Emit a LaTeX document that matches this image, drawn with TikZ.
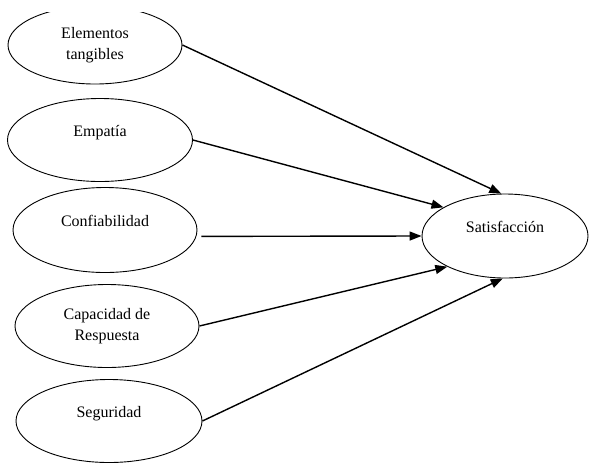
\documentclass[tikz,border=0pt]{standalone}
\usepackage{fontspec}
\setmainfont{Liberation Serif}
\usetikzlibrary{shapes.geometric,arrows.meta}

\begin{document}
\begin{tikzpicture}[x=1pt, y=-1pt,
	factor/.style={draw, ellipse, line width=0.9pt, align=center, inner sep=0pt,
		font=\fontsize{16}{21}\selectfont},
	raised/.style={text depth=18pt},
	link/.style={line width=1.4pt, -{Triangle[length=12pt,width=9pt]}}]
	
	\useasboundingbox (0,0) rectangle (589,464);
	
	\begin{scope}
		\clip (0,12) rectangle (589,464);
		\node [factor, minimum width=174pt, minimum height=78pt] (tangibles) at (95,45) {Elementos\\tangibles};
	\end{scope}
	\node [factor, raised, minimum width=185pt, minimum height=83pt] (empatia) at (100,140) {Empatía};
	\node [factor, raised, minimum width=184pt, minimum height=85pt] (confiabilidad) at (105,230) {Confiabilidad};
	\node [factor, minimum width=184pt, minimum height=83pt] (capacidad) at (107,326) {Capacidad de\\Respuesta};
	\node [factor, raised, minimum width=186pt, minimum height=83pt] (seguridad) at (109,421) {Seguridad};
	\node [factor, raised, minimum width=166pt, minimum height=84pt] (satisfaccion) at (505,236) {Satisfacción};
	
	\draw [link] (tangibles.east) -- (satisfaccion.95);
	\draw [link] (empatia.east) -- (satisfaccion.155);
	\draw [link, shorten <=5pt] (confiabilidad.-4) -- (satisfaccion.west);
	\draw [link] (capacidad.east) -- (satisfaccion.208);
	\draw [link] (seguridad.east) -- (satisfaccion.267);
	
\end{tikzpicture}
\end{document}
